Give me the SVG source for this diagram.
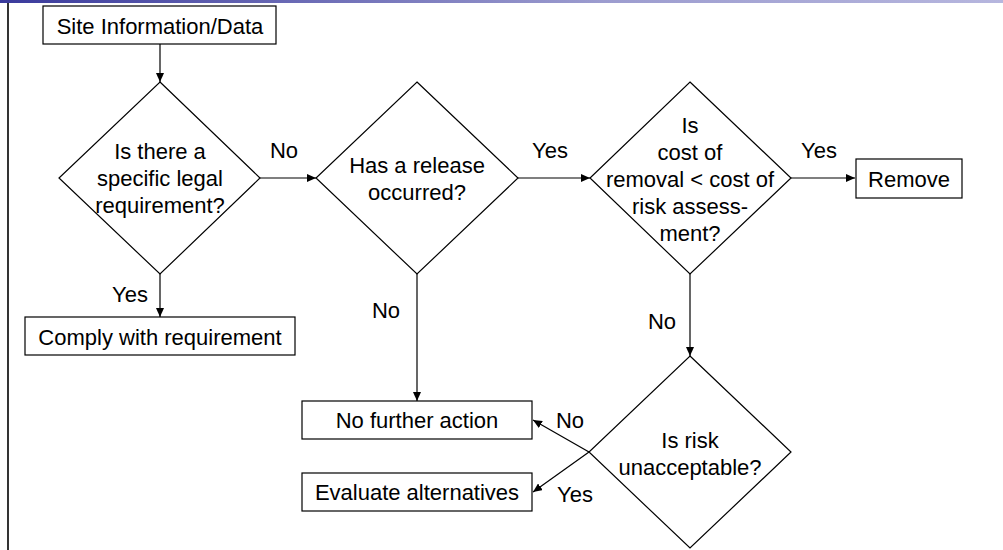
<svg xmlns="http://www.w3.org/2000/svg" width="1003" height="550" viewBox="0 0 1003 550">
<defs>
<linearGradient id="bar" x1="0" y1="0" x2="1" y2="0">
<stop offset="0" stop-color="#3a3a9c"/>
<stop offset="0.6" stop-color="#9c9ccf"/>
<stop offset="1" stop-color="#b6b6de"/>
</linearGradient>
<marker id="arr" markerWidth="10" markerHeight="8" refX="9" refY="4" orient="auto" markerUnits="userSpaceOnUse">
<path d="M0,0 L9,4 L0,8 Z" fill="#000"/>
</marker>
</defs>
<style>
text{font-family:"Liberation Sans",Arial,sans-serif;font-size:22px;fill:#000;text-anchor:middle}
.box{fill:#fff;stroke:#000;stroke-width:1.2}
.dia{fill:none;stroke:#000;stroke-width:1.2}
.con{fill:none;stroke:#000;stroke-width:1.2;marker-end:url(#arr)}
</style>
<rect x="0" y="0" width="1003" height="3" fill="url(#bar)"/>
<line x1="8" y1="3" x2="8" y2="550" stroke="#000" stroke-width="1.6"/>

<g id="connectors">
<line class="con" x1="160" y1="44" x2="160" y2="82"/>
<line class="con" x1="260" y1="178" x2="316" y2="178"/>
<line class="con" x1="518" y1="178" x2="590" y2="178"/>
<line class="con" x1="791" y1="178" x2="855" y2="178"/>
<line class="con" x1="160" y1="274" x2="160" y2="317"/>
<line class="con" x1="417" y1="274" x2="417" y2="401"/>
<line class="con" x1="690" y1="274" x2="690" y2="356"/>
<line class="con" x1="589" y1="452" x2="533" y2="420"/>
<line class="con" x1="589" y1="452" x2="533" y2="492"/>
<text x="284" y="158">No</text>
<text x="550" y="158">Yes</text>
<text x="819" y="158">Yes</text>
<text x="130" y="302">Yes</text>
<text x="386" y="318">No</text>
<text x="662" y="329">No</text>
<text x="570" y="428">No</text>
<text x="575" y="502">Yes</text>
</g>

<g id="site">
<rect class="box" x="43" y="6" width="233" height="38"/>
<text x="160" y="34">Site Information/Data</text>
</g>
<g id="legal">
<path class="dia" d="M160,82 L260,178 L160,274 L59,178 Z"/>
<text x="160" y="159">Is there a</text>
<text x="160" y="186">specific legal</text>
<text x="160" y="213">requirement?</text>
</g>
<g id="release">
<path class="dia" d="M417,82 L518,178 L417,274 L316,178 Z"/>
<text x="417" y="173">Has a release</text>
<text x="417" y="200">occurred?</text>
</g>
<g id="cost">
<path class="dia" d="M690,82 L791,178 L690,274 L590,178 Z"/>
<text x="690" y="133">Is</text>
<text x="690" y="160">cost of</text>
<text x="690" y="187">removal &lt; cost of</text>
<text x="690" y="214">risk assess-</text>
<text x="690" y="241">ment?</text>
</g>
<g id="remove">
<rect class="box" x="856" y="159" width="106" height="39"/>
<text x="909" y="187">Remove</text>
</g>
<g id="comply">
<rect class="box" x="25" y="317" width="270" height="38"/>
<text x="160" y="345">Comply with requirement</text>
</g>
<g id="nofurther">
<rect class="box" x="302" y="401" width="230" height="38"/>
<text x="417" y="428">No further action</text>
</g>
<g id="evaluate">
<rect class="box" x="302" y="473" width="230" height="38"/>
<text x="417" y="500">Evaluate alternatives</text>
</g>
<g id="risk">
<path class="dia" d="M690,356 L791,452 L690,548 L589,452 Z"/>
<text x="690" y="448">Is risk</text>
<text x="690" y="475">unacceptable?</text>
</g>
</svg>
